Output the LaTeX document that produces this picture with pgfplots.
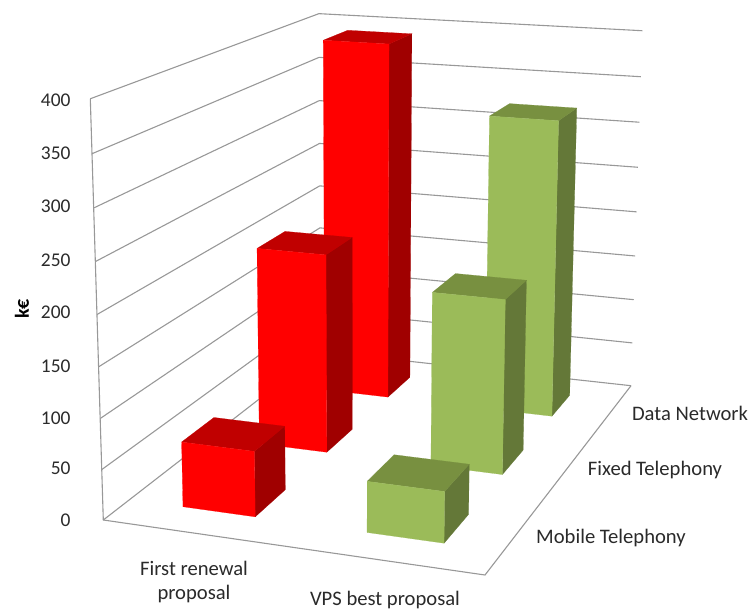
\documentclass[border=0pt]{standalone}
\usepackage{fontspec}
\setmainfont{Carlito}
\usepackage{pgfplots}
\pgfplotsset{compat=1.18}

\definecolor{gridgray}{HTML}{989898}
\definecolor{labeltext}{HTML}{2A2A2A}
\definecolor{redfront}{HTML}{FF0000}
\definecolor{redtop}{HTML}{C00000}
\definecolor{redside}{HTML}{A00000}
\definecolor{greenfront}{HTML}{9BBB59}
\definecolor{greentop}{HTML}{789040}
\definecolor{greenside}{HTML}{647838}

% Perspective view of the chart box: X along the categories and Y into the
% depth (both 0..1), Z is the value in k-euro (0..400).
\pgfkeys{/pgfplots/table/project/.style={
  row sep=\\,
  x expr={(351.1*\thisrow{X}+300.2*\thisrow{Y}-17.33*\thisrow{Z}/400+103.3)/(1-0.06309*\thisrow{X}+0.25897*\thisrow{Y}-0.048*\thisrow{Z}/400)},
  y expr={(18.72*\thisrow{X}-77.47*\thisrow{Y}-426*\thisrow{Z}/400+520)/(1-0.06309*\thisrow{X}+0.25897*\thisrow{Y}-0.048*\thisrow{Z}/400)}
}}

% One 3D column: X range, Y range, value, colour prefix
\newcommand{\column}[6]{%
  \addplot[draw=#6side,line width=0.2pt,fill=#6side] table[project]{
    X Y Z\\ #2 #3 0\\ #2 #4 0\\ #2 #4 #5\\ #2 #3 #5\\ #2 #3 0\\ };
  \addplot[draw=#6top,line width=0.2pt,fill=#6top] table[project]{
    X Y Z\\ #1 #3 #5\\ #2 #3 #5\\ #2 #4 #5\\ #1 #4 #5\\ #1 #3 #5\\ };
  \addplot[draw=#6front,line width=0.2pt,fill=#6front] table[project]{
    X Y Z\\ #1 #3 0\\ #2 #3 0\\ #2 #3 #5\\ #1 #3 #5\\ #1 #3 0\\ };
}

\tikzset{
  tick/.style={text=labeltext,font=\fontsize{19.5}{22}\selectfont},
  lab/.style={text=labeltext,font=\fontsize{20.7}{24}\selectfont},
}

\begin{document}
\begin{tikzpicture}
\useasboundingbox (0,0) rectangle (749bp,610bp);
\begin{axis}[
  at={(0,0)},anchor=south west,
  scale only axis,width=749bp,height=610bp,
  xmin=0,xmax=749,ymin=0,ymax=610,
  y dir=reverse,
  hide axis,clip=false,
  every axis plot/.append style={mark=none},
]
  % Value gridlines across the left and back walls
  \pgfplotsinvokeforeach{0,50,100,150,200,250,300,350,400}{
    \addplot[gridgray,line width=1.1bp] table[project]{
      X Y Z\\ 0 0 #1\\ 0 1 #1\\ 1 1 #1\\ };
  }
  % Front vertical edge and the floor edges
  \addplot[gridgray,line width=1.1bp] table[project]{
    X Y Z\\ 0 0 400\\ 0 0 0\\ 1 0 0\\ 1 1 0\\ };

  % Columns, drawn from the back row forward
  \column{0.15}{0.35}{0.7667}{0.9}{392}{red}
  \column{0.65}{0.85}{0.7667}{0.9}{322}{green}
  \column{0.15}{0.35}{0.4333}{0.5667}{208}{red}
  \column{0.65}{0.85}{0.4333}{0.5667}{180}{green}
  \column{0.15}{0.35}{0.1}{0.2333}{65}{red}
  \column{0.65}{0.85}{0.1}{0.2333}{50}{green}

  % Value axis labels
  \node[tick,anchor=east] at (axis cs:74,100) {400};
  \node[tick,anchor=east] at (axis cs:74,153) {350};
  \node[tick,anchor=east] at (axis cs:74,206) {300};
  \node[tick,anchor=east] at (axis cs:74,260) {250};
  \node[tick,anchor=east] at (axis cs:74,312) {200};
  \node[tick,anchor=east] at (axis cs:74,366) {150};
  \node[tick,anchor=east] at (axis cs:74,418) {100};
  \node[tick,anchor=east] at (axis cs:74,468) {50};
  \node[tick,anchor=east] at (axis cs:74,520) {0};
  \node[rotate=90,font=\fontsize{20}{24}\selectfont\bfseries,text=black] at (axis cs:22,309) {k€};
  % Category and series labels
  \node[lab,align=center] at (axis cs:194,582) {First renewal\\[1pt]proposal};
  \node[lab] at (axis cs:385,600) {VPS best proposal};
  \node[lab] at (axis cs:690,413) {Data Network};
  \node[lab] at (axis cs:655,470) {Fixed Telephony};
  \node[lab] at (axis cs:611,538) {Mobile Telephony};
\end{axis}
\end{tikzpicture}
\end{document}
